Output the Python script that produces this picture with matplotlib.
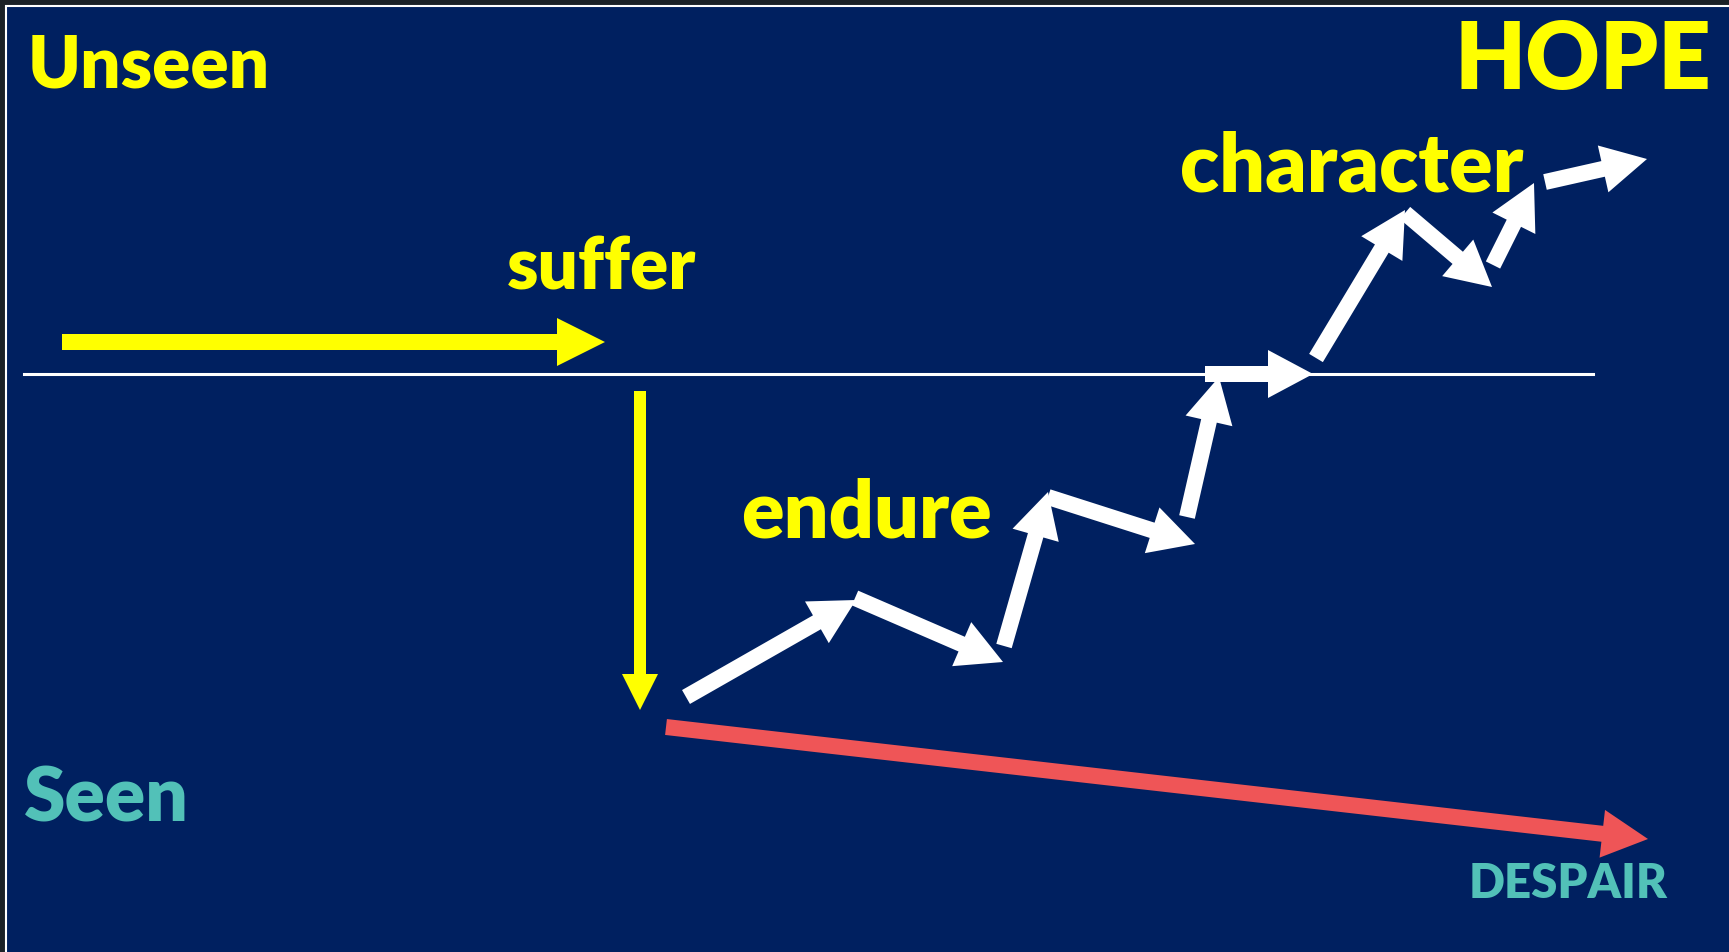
import matplotlib.pyplot as plt
from matplotlib.patches import FancyArrow, Rectangle

W, H = 1729, 952
NAVY = "#002060"
YELLOW = "#FFFF00"
TEAL = "#52C1B8"
RED = "#EF5557"
WHITE = "#FFFFFF"

# labels: text, x, baseline y, size (pt), colour, alignment
label_text = ["Unseen", "HOPE", "character", "suffer", "endure", "Seen", "DESPAIR"]
label_x = [28, 1711, 1180, 507, 741, 24, 1469]
label_y = [88, 89, 192, 289, 538, 821, 898]
label_size = [51, 66, 58, 51, 57, 54, 34]
label_color = [YELLOW, YELLOW, YELLOW, YELLOW, YELLOW, TEAL, TEAL]
label_ha = ["left", "right", "left", "left", "left", "left", "left"]

# white zig-zag of small steps (tail -> tip)
step_tail = [(686, 697), (855, 598), (1004, 646), (1048, 497), (1187, 517),
             (1205, 374), (1316, 358), (1405, 213), (1493, 265), (1545, 182)]
step_tip = [(856, 600), (1003, 662), (1048, 492), (1195, 544), (1219, 377),
            (1313, 374), (1405, 210), (1492, 287), (1534, 183), (1647, 159)]

# big arrows: suffer (yellow), fall (yellow), despair (red)
big_tail = [(62, 342), (640, 391), (666, 727)]
big_tip = [(605, 342), (640, 710), (1648, 839)]
big_color = [YELLOW, YELLOW, RED]
big_width = [16, 12, 16]
big_head = [(48, 48), (36, 36), (48, 46)]

divider_y = 374
divider_x = (24, 1593)

fig = plt.figure(figsize=(W / 100, H / 100), dpi=100)
fig.patch.set_facecolor("#1b2127")
ax = fig.add_axes([0, 0, 1, 1])
ax.set_xlim(0, W)
ax.set_ylim(H, 0)
ax.axis("off")

ax.add_patch(Rectangle((6, 6), W, H, facecolor=NAVY, edgecolor=WHITE, linewidth=1.5))

ax.plot(divider_x, [divider_y, divider_y], color=WHITE, linewidth=2.2, zorder=2)

for (x0, y0), (x1, y1), c, w, (hw, hl) in zip(big_tail, big_tip, big_color, big_width, big_head):
    ax.add_patch(FancyArrow(x0, y0, x1 - x0, y1 - y0, width=w, head_width=hw,
                            head_length=hl, length_includes_head=True,
                            facecolor=c, edgecolor="none", zorder=3))

for (x0, y0), (x1, y1) in zip(step_tail, step_tip):
    ax.add_patch(FancyArrow(x0, y0, x1 - x0, y1 - y0, width=16, head_width=48,
                            head_length=45, length_includes_head=True,
                            facecolor=WHITE, edgecolor="none", zorder=4))

for t, x, y, s, c, ha in zip(label_text, label_x, label_y, label_size, label_color, label_ha):
    ax.text(x, y, t, fontsize=s, color=c, ha=ha, va="baseline",
            family="Lato", fontweight="heavy", zorder=5)

fig.savefig("out.png", dpi=100, facecolor=fig.get_facecolor())
